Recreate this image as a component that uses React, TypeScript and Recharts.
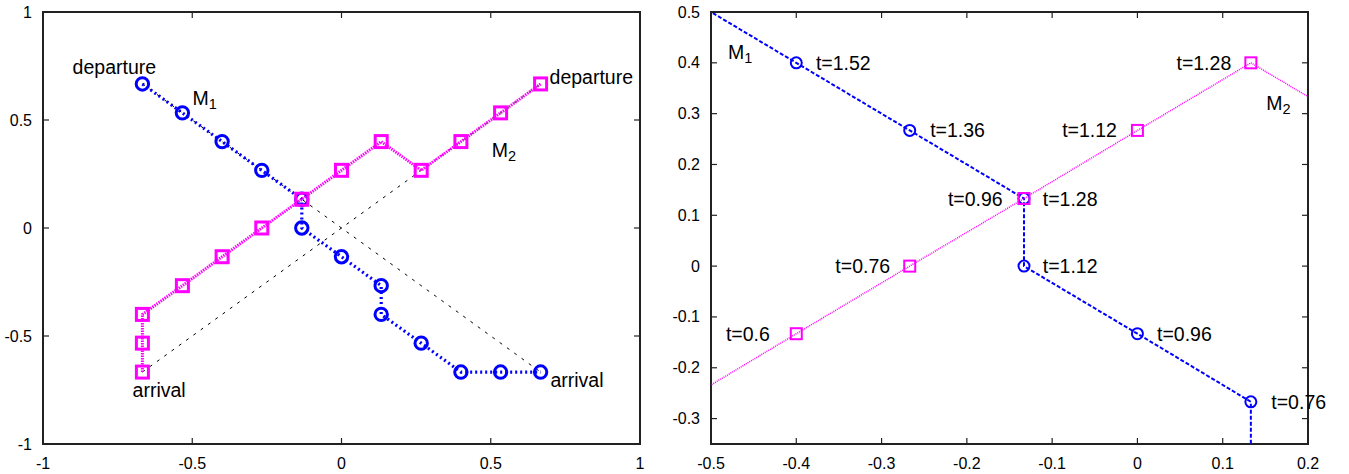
import { ComposedChart, Line, XAxis, YAxis, ReferenceArea, ReferenceDot } from "recharts";

// M1 trajectory (blue circles), departure -> arrival
const m1X = [-0.667, -0.533, -0.4, -0.267, -0.133, -0.133, 0, 0.133, 0.133, 0.267, 0.4, 0.533, 0.667];
const m1Y = [0.667, 0.533, 0.4, 0.267, 0.133, 0, -0.133, -0.267, -0.4, -0.533, -0.667, -0.667, -0.667];

// M2 trajectory (magenta squares), arrival -> departure
const m2X = [-0.667, -0.667, -0.667, -0.533, -0.4, -0.267, -0.133, 0, 0.133, 0.267, 0.4, 0.533, 0.667];
const m2Y = [-0.667, -0.533, -0.4, -0.267, -0.133, 0, 0.133, 0.267, 0.4, 0.267, 0.4, 0.533, 0.667];

// straight departure/arrival paths (black dashed, left panel only)
const diagUpX = [-0.667, 0.667];
const diagUpY = [-0.667, 0.667];
const diagDownX = [-0.667, 0.667];
const diagDownY = [0.667, -0.667];

const leftTicks = [-1, -0.5, 0, 0.5, 1];
const rightXTicks = [-0.5, -0.4, -0.3, -0.2, -0.1, 0, 0.1, 0.2];
const rightYTicks = [-0.3, -0.2, -0.1, 0, 0.1, 0.2, 0.3, 0.4, 0.5];

type Note = { x: number; y: number; text: string; sub?: string; anchor?: "start" | "middle" | "end" };

const leftNotes: Note[] = [
  { x: -0.761, y: 0.745, text: "departure", anchor: "middle" },
  { x: -0.499, y: 0.602, text: "M", sub: "1" },
  { x: 0.697, y: 0.699, text: "departure" },
  { x: 0.503, y: 0.361, text: "M", sub: "2" },
  { x: -0.7, y: -0.75, text: "arrival" },
  { x: 0.7, y: -0.704, text: "arrival" },
];

const rightNotes: Note[] = [
  { x: -0.48, y: 0.421, text: "M", sub: "1" },
  { x: -0.377, y: 0.4, text: "t=1.52" },
  { x: -0.243, y: 0.267, text: "t=1.36" },
  { x: -0.158, y: 0.133, text: "t=0.96", anchor: "end" },
  { x: -0.111, y: 0.133, text: "t=1.28" },
  { x: -0.024, y: 0.267, text: "t=1.12", anchor: "end" },
  { x: 0.11, y: 0.4, text: "t=1.28", anchor: "end" },
  { x: 0.151, y: 0.321, text: "M", sub: "2" },
  { x: -0.29, y: 0, text: "t=0.76", anchor: "end" },
  { x: -0.431, y: -0.133, text: "t=0.6", anchor: "end" },
  { x: -0.111, y: 0, text: "t=1.12" },
  { x: 0.023, y: -0.133, text: "t=0.96" },
  { x: 0.157, y: -0.267, text: "t=0.76" },
];

const pts = (xs: number[], ys: number[]) => xs.map((x, i) => ({ x, y: ys[i] }));

const FONT = "'Liberation Sans', Arial, Helvetica, sans-serif";
const BLUE = "#0000ff";
const MAGENTA = "#ff00ff";
const FRAME = "#222";
const PLOT_TOP = 12;
const PLOT_RIGHT = 640;

const XTick = ({ x, y, payload }: any) => (
  <g>
    <line x1={x} x2={x} y1={y} y2={y - 6} stroke={FRAME} strokeWidth={1.2} />
    <line x1={x} x2={x} y1={PLOT_TOP} y2={PLOT_TOP + 6} stroke={FRAME} strokeWidth={1.2} />
    <text x={x} y={y + 19} textAnchor="middle" dominantBaseline="central" fontSize={16} fontFamily={FONT} fill="#000">
      {String(payload.value)}
    </text>
  </g>
);

const YTick = ({ x, y, payload }: any) => (
  <g>
    <line x1={x} x2={x + 6} y1={y} y2={y} stroke={FRAME} strokeWidth={1.2} />
    <line x1={PLOT_RIGHT - 6} x2={PLOT_RIGHT} y1={y} y2={y} stroke={FRAME} strokeWidth={1.2} />
    <text x={x - 11} y={y} textAnchor="end" dominantBaseline="central" fontSize={16} fontFamily={FONT} fill="#000">
      {String(payload.value)}
    </text>
  </g>
);

const NoteText = ({ cx, cy, note }: { cx: number; cy: number; note: Note }) => (
  <text x={cx} y={cy} textAnchor={note.anchor || "start"} dominantBaseline="central" fontSize={19.5} fontFamily={FONT} fill="#000">
    {note.text}
    {note.sub && (
      <tspan fontSize={14.5} dy={6}>
        {note.sub}
      </tspan>
    )}
  </text>
);

function Panel({ left, width, xDomain, yDomain, xTicks, yTicks, notes, bold }: any) {
  const circleR = bold ? 6.2 : 5.5;
  const mw = bold ? 3 : 2;
  const sq = bold ? 12 : 11;

  const circleDot = (p: any) =>
    p.cx == null ? null : (
      <circle key={`c${p.index}`} cx={p.cx} cy={p.cy} r={circleR} fill="none" stroke={BLUE} strokeWidth={mw} />
    );
  const squareDot = (p: any) =>
    p.cx == null ? null : (
      <rect key={`s${p.index}`} x={p.cx - sq / 2} y={p.cy - sq / 2} width={sq} height={sq} fill="none" stroke={MAGENTA} strokeWidth={mw} />
    );

  return (
    <div style={{ position: "absolute", left, top: 0, width, height: 474 }}>
      <ComposedChart width={width} height={474} margin={{ top: PLOT_TOP, right: width - PLOT_RIGHT, left: 3, bottom: 0 }}>
        <XAxis
          dataKey="x"
          type="number"
          domain={xDomain}
          allowDataOverflow
          ticks={xTicks}
          interval={0}
          axisLine={false}
          tickLine={false}
          tickSize={0}
          tickMargin={0}
          height={30}
          tick={(p: any) => <XTick {...p} />}
        />
        <YAxis
          dataKey="y"
          type="number"
          domain={yDomain}
          allowDataOverflow
          ticks={yTicks}
          interval={0}
          axisLine={false}
          tickLine={false}
          tickSize={0}
          tickMargin={0}
          width={40}
          tick={(p: any) => <YTick {...p} />}
        />
        {bold && (
          <Line data={pts(diagUpX, diagUpY)} dataKey="y" stroke="#000" strokeWidth={1} strokeDasharray="3 6" dot={false} isAnimationActive={false} />
        )}
        {bold && (
          <Line data={pts(diagDownX, diagDownY)} dataKey="y" stroke="#000" strokeWidth={1} strokeDasharray="3 6" dot={false} isAnimationActive={false} />
        )}
        <Line
          data={pts(m1X, m1Y)}
          dataKey="y"
          stroke={BLUE}
          strokeWidth={bold ? 3.2 : 2}
          strokeDasharray={bold ? "2 3" : "4 2"}
          dot={circleDot}
          activeDot={false}
          isAnimationActive={false}
        />
        <Line
          data={pts(m2X, m2Y)}
          dataKey="y"
          stroke={MAGENTA}
          strokeWidth={bold ? 3 : 1.5}
          strokeDasharray={bold ? "1.5 1" : "1 1"}
          dot={squareDot}
          activeDot={false}
          isAnimationActive={false}
        />
        <ReferenceArea
          x1={xDomain[0]}
          x2={xDomain[1]}
          y1={yDomain[0]}
          y2={yDomain[1]}
          fill="none"
          fillOpacity={0}
          stroke={FRAME}
          strokeWidth={2}
          ifOverflow="visible"
        />
        {notes.map((n: Note, i: number) => (
          <ReferenceDot
            key={i}
            x={n.x}
            y={n.y}
            r={0}
            ifOverflow="visible"
            shape={(p: any) => <NoteText cx={p.cx} cy={p.cy} note={n} />}
          />
        ))}
      </ComposedChart>
    </div>
  );
}

export default function App() {
  return (
    <div style={{ position: "absolute", left: 0, top: 0, width: 1349, height: 474, background: "#fff" }}>
      <Panel left={0} width={670} xDomain={[-1, 1]} yDomain={[-1, 1]} xTicks={leftTicks} yTicks={leftTicks} notes={leftNotes} bold />
      <Panel
        left={668}
        width={681}
        xDomain={[-0.5, 0.2]}
        yDomain={[-0.35, 0.5]}
        xTicks={rightXTicks}
        yTicks={rightYTicks}
        notes={rightNotes}
        bold={false}
      />
    </div>
  );
}
